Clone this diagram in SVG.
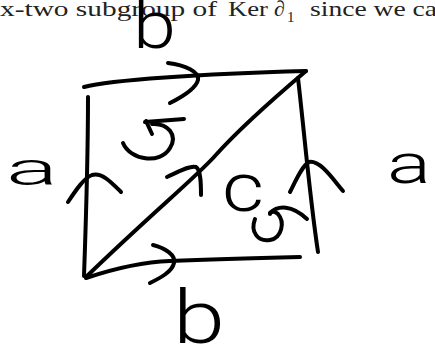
<svg xmlns="http://www.w3.org/2000/svg" width="435" height="351" viewBox="0 0 435 351">
<style>
.ink{fill:none;stroke:#000;stroke-width:4;stroke-linecap:round;stroke-linejoin:round}
.cap{font-family:"Liberation Serif","Times New Roman",serif;font-size:22px;fill:#222}
.hand{font-family:Roboto,"DejaVu Sans",sans-serif;font-weight:300;fill:#000}
</style>
<rect width="435" height="351" fill="#fff"/>
<g id="caption">
<text class="cap" x="0" y="16" textLength="217" lengthAdjust="spacingAndGlyphs">x-two subgroup of</text>
<text class="cap" x="228" y="16" textLength="40" lengthAdjust="spacingAndGlyphs">Ker</text>
<text class="cap" x="274" y="16" font-style="italic">∂</text>
<text class="cap" x="287" y="22" style="font-size:15px">1</text>
<text class="cap" x="310" y="16" textLength="127" lengthAdjust="spacingAndGlyphs">since we ca</text>
</g>
<g id="edges">
<path class="ink" d="M84,87 C110,80 200,74 306,71"/>
<path class="ink" d="M88,97 C88,150 86,220 84,276"/>
<path class="ink" d="M298,78 C304,130 310,200 318,252"/>
<path class="ink" d="M86,278 C110,270 140,262 170,261 C220,259 260,258 300,257"/>
<path class="ink" d="M306,71 C280,93 238,130 214,157 C195,178 150,215 86,277"/>
</g>
<g id="arrows">
<path class="ink" d="M168,63 C185,65 200,72 198,80 C196,88 182,97 170,103"/>
<path class="ink" d="M153,245 C165,248 176,255 174,263 C172,272 160,278 150,283"/>
<path class="ink" d="M68,202 C76,190 84,178 92,175 C102,172 112,183 121,192"/>
<path class="ink" d="M290,192 C296,180 302,166 309,162 C320,160 332,178 343,191"/>
<path class="ink" d="M167,177 C178,172 190,165 196,167 C201,170 201,185 201,195"/>
<path class="ink" d="M123,143 C130,160 160,165 170,148 C178,135 168,123 152,124"/>
<path class="ink" d="M184,119 L145,122 M146,121 L152,134"/>
<path class="ink" d="M255,219 C250,232 258,242 270,240 C282,238 285,222 278,214 C274,210 270,212 270,214"/>
<path class="ink" d="M270,213 C278,205 292,205 307,219"/>
</g>
<g id="labels">
<text class="hand" x="133" y="48" font-size="66" textLength="43" lengthAdjust="spacingAndGlyphs">b</text>
<text class="hand" x="173" y="343" font-size="74" textLength="52" lengthAdjust="spacingAndGlyphs">b</text>
<text class="hand" x="6" y="185" font-size="46" textLength="52" lengthAdjust="spacingAndGlyphs">a</text>
<text class="hand" x="387" y="183" font-size="56" textLength="44" lengthAdjust="spacingAndGlyphs">a</text>
<text class="hand" x="222" y="211" font-size="68" textLength="42" lengthAdjust="spacingAndGlyphs">c</text>
</g>
</svg>
